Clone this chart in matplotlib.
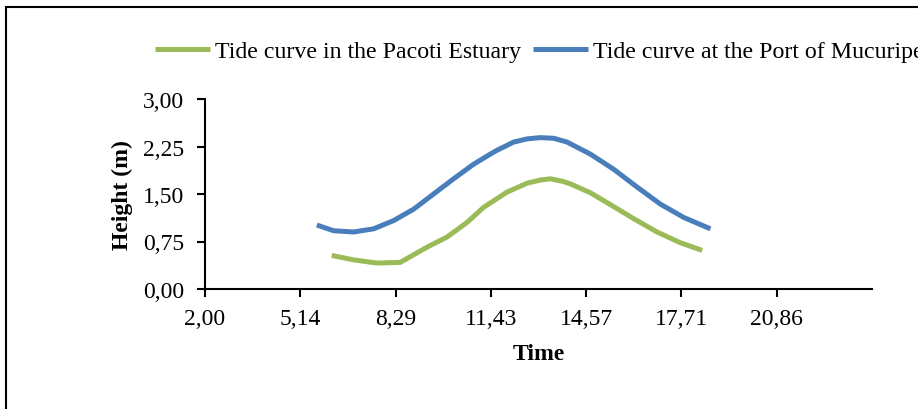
import numpy as np
import matplotlib
matplotlib.use('Agg')
import matplotlib.pyplot as plt
from matplotlib.ticker import FuncFormatter, FixedLocator
from matplotlib.patches import Rectangle

# data
time_pacoti = [6.18, 6.90, 7.67, 8.44, 8.77, 9.32, 9.98, 10.64, 11.19, 11.45, 11.96, 12.62,
               13.06, 13.39, 13.80, 14.05, 14.71, 15.38, 16.14, 16.91, 17.68, 18.40]
height_pacoti = [0.53, 0.46, 0.41, 0.42, 0.51, 0.66, 0.82, 1.05, 1.29, 1.37, 1.53, 1.67,
                 1.72, 1.74, 1.70, 1.66, 1.52, 1.33, 1.11, 0.90, 0.73, 0.61]

time_mucuripe = [5.69, 6.24, 6.90, 7.56, 8.22, 8.88, 9.54, 10.20, 10.86, 11.41, 11.63, 12.18,
                 12.62, 13.06, 13.50, 13.94, 14.71, 15.48, 16.25, 17.02, 17.79, 18.67]
height_mucuripe = [1.01, 0.92, 0.90, 0.95, 1.08, 1.26, 1.50, 1.74, 1.97, 2.13, 2.19, 2.32,
                   2.37, 2.39, 2.38, 2.32, 2.13, 1.89, 1.61, 1.34, 1.13, 0.95]

x_ticks = [2 + k * 22 / 7 for k in range(7)]
y_ticks = [0.0, 0.75, 1.5, 2.25, 3.0]

plt.rcParams['font.family'] = ['Liberation Serif', 'DejaVu Serif']

W, H = 918, 410
fig = plt.figure(figsize=(W / 100, H / 100), dpi=100)

# outer chart border (cut off at right and bottom like the source)
fig.patches.append(Rectangle((6 / W, -0.1), 2.0, (H - 8) / H + 0.1, transform=fig.transFigure,
                             fill=False, edgecolor='black', linewidth=1.5))

ax = fig.add_axes([205 / W, 1 - 290 / H, (872 - 205) / W, (290 - 100) / H])

ax.plot(time_pacoti, height_pacoti, color='#9BBB59', linewidth=3.6,
        label='Tide curve in the Pacoti Estuary', solid_capstyle='butt', solid_joinstyle='round')
ax.plot(time_mucuripe, height_mucuripe, color='#4A7EBB', linewidth=3.6,
        label='Tide curve at the Port of Mucuripe', solid_capstyle='butt', solid_joinstyle='round')

ax.set_xlim(2, 24)
ax.set_ylim(0, 3)
ax.xaxis.set_major_locator(FixedLocator(x_ticks))
ax.yaxis.set_major_locator(FixedLocator(y_ticks))
comma = FuncFormatter(lambda v, p: ('%.2f' % v).replace('.', ','))
ax.xaxis.set_major_formatter(comma)
ax.yaxis.set_major_formatter(comma)

for s in ['top', 'right']:
    ax.spines[s].set_visible(False)
for s in ['left', 'bottom']:
    ax.spines[s].set_linewidth(1.5)
ax.tick_params(axis='both', direction='out', length=6, width=1.5, labelsize=17)
ax.tick_params(axis='x', pad=8)
ax.tick_params(axis='y', pad=9)

ax.set_xlabel('Time', fontsize=17, fontweight='bold', labelpad=10)
ax.set_ylabel('Height (m)', fontsize=17, fontweight='bold', labelpad=7)

fig.legend(loc='center left', bbox_to_anchor=(155 / W, 1 - 52 / H), ncol=2, frameon=False,
           fontsize=17.2, handlelength=2.3, handletextpad=0.2, columnspacing=0.5,
           borderpad=0, borderaxespad=0)

fig.savefig('out.png', dpi=100)
